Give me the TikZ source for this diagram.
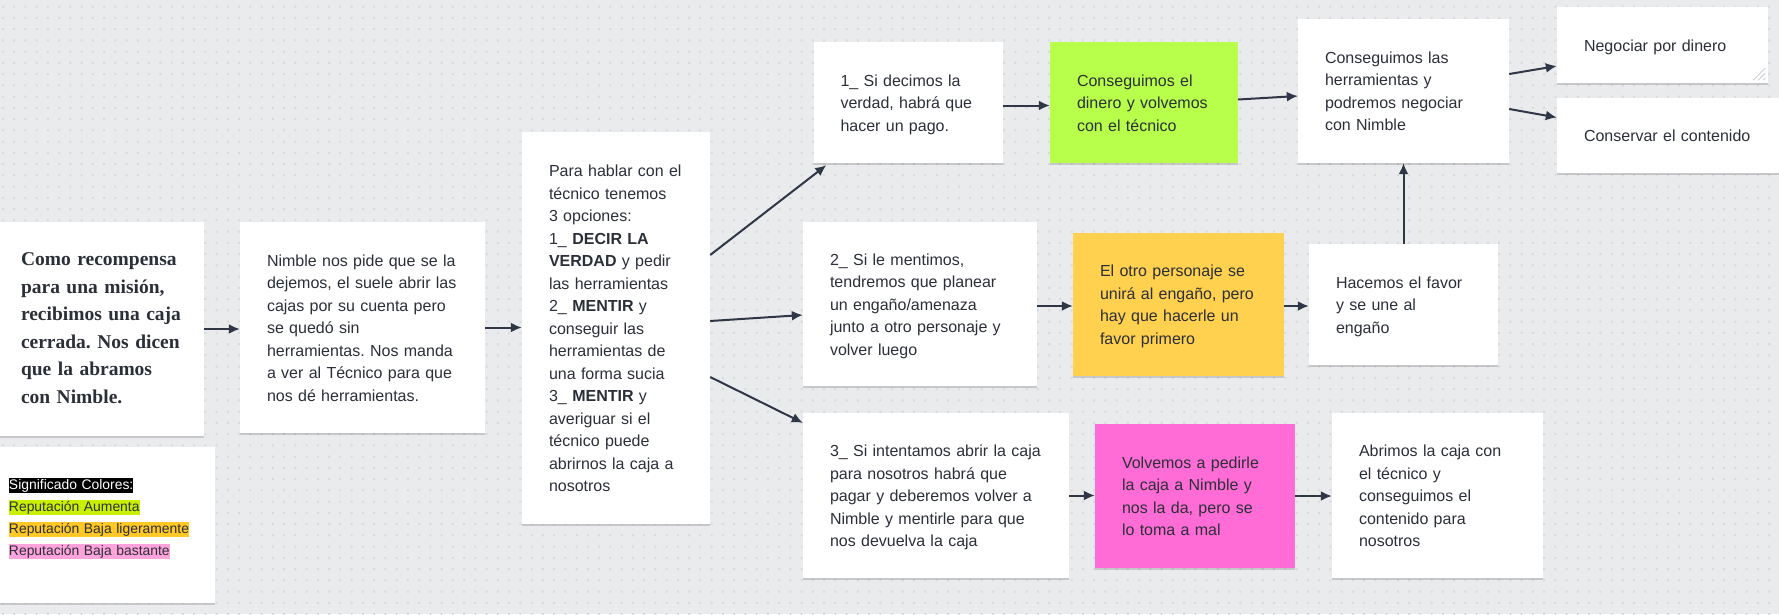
\documentclass[tikz,border=0pt]{standalone}
\usepackage{fontspec}
\setmainfont{Liberation Sans}
\newfontfamily\serifbold{Liberation Serif}
\usetikzlibrary{arrows.meta, shadows}
\frenchspacing

\definecolor{board}{HTML}{EAEBED}
\definecolor{dotgray}{HTML}{D8DADE}
\definecolor{ink}{HTML}{2B2F38}
\definecolor{wire}{HTML}{2F3746}
\definecolor{upgreen}{HTML}{B8FF4C}
\definecolor{downyellow}{HTML}{FFD14F}
\definecolor{downpink}{HTML}{FF6CD6}
\definecolor{keylime}{HTML}{C8F000}
\definecolor{keyamber}{HTML}{FFC826}
\definecolor{keypink}{HTML}{FFA3DD}

\newcommand{\cardlines}[1]{\begin{tabular}{@{}l@{}}\rule{0pt}{18.75pt}#1\end{tabular}}
\newcommand{\keymark}[2]{{\setlength{\fboxsep}{0pt}\colorbox{#1}{\rule[-3pt]{0pt}{15pt}#2}}}

\begin{document}
\begin{tikzpicture}[x=1pt,y=-1pt,
    card/.style={fill=white,text=ink,inner xsep=27pt,inner ysep=0pt,
      font=\fontsize{16}{22.5}\selectfont,
      drop shadow={shadow xshift=0pt,shadow yshift=-1.5pt,opacity=0.15,fill=black}}]
  \tikzstyle{link}=[draw=wire,line width=2pt,-{Latex[length=11pt,width=10pt]}]
  % board
  \fill[board] (0,0) rectangle (1779,614);
  \useasboundingbox (0,0) rectangle (1779,614);
  \foreach \j in {0,...,54}
    \fill[dotgray] \foreach \i in {0,...,158} {(1.95+11.25*\i,5.5+11.25*\j) rectangle ++(2,2)};

  % start
  \node[card, text width=156pt, minimum height=214pt,
    font=\serifbold\bfseries\fontsize{19.5}{27.5}\selectfont] (reward) at (99,329)
    {\cardlines{Como recompensa\\ para una misión,\\ recibimos una caja\\ cerrada. Nos dicen\\ que la abramos\\ con Nimble.}};
  \node[card, text width=191pt, minimum height=211pt] (nimble) at (362.5,327.5)
    {\cardlines{Nimble nos pide que se la\\ dejemos, el suele abrir las\\ cajas por su cuenta pero\\ se quedó sin\\ herramientas. Nos manda\\ a ver al Técnico para que\\ nos dé herramientas.}};
  \node[card, text width=134pt, minimum height=392pt] (opts) at (616,328)
    {\cardlines{Para hablar con el\\ técnico tenemos\\ 3 opciones:\\ 1\_ \textbf{DECIR LA}\\ \textbf{VERDAD} y pedir\\ las herramientas\\ 2\_ \textbf{MENTIR} y\\ conseguir las\\ herramientas de\\ una forma sucia\\ 3\_ \textbf{MENTIR} y\\ averiguar si el\\ técnico puede\\ abrirnos la caja a\\ nosotros}};

  % option 1
  \node[card, text width=135pt, minimum height=121pt] (truth) at (908,102.5)
    {\cardlines{1\_ Si decimos la\\ verdad, habrá que\\ hacer un pago.}};
  \node[card, fill=upgreen, text width=134pt, minimum height=121pt] (money) at (1144,102.5)
    {\cardlines{Conseguimos el\\ dinero y volvemos\\ con el técnico}};
  \node[card, text width=157pt, minimum height=144pt] (tools) at (1403.5,91)
    {\cardlines{Conseguimos las\\ herramientas y\\ podremos negociar\\ con Nimble}};
  \node[card, text width=157pt, minimum height=76pt] (deal) at (1662.5,45)
    {\cardlines{Negociar por dinero}};
  \node[card, text width=179pt, minimum height=75pt] (keep) at (1673.5,135.5)
    {\cardlines{Conservar el contenido}};

  % option 2
  \node[card, text width=180pt, minimum height=164pt] (lie) at (920,304)
    {\cardlines{2\_ Si le mentimos,\\ tendremos que planear\\ un engaño/amenaza\\ junto a otro personaje y\\ volver luego}};
  \node[card, fill=downyellow, text width=157pt, minimum height=143pt] (join) at (1178.5,304.5)
    {\cardlines{El otro personaje se\\ unirá al engaño, pero\\ hay que hacerle un\\ favor primero}};
  \node[card, text width=135pt, minimum height=121pt] (favor) at (1403.5,304.5)
    {\cardlines{Hacemos el favor\\ y se une al\\ engaño}};

  % option 3
  \node[card, text width=212pt, minimum height=165pt] (ask) at (936,495.5)
    {\cardlines{3\_ Si intentamos abrir la caja\\ para nosotros habrá que\\ pagar y deberemos volver a\\ Nimble y mentirle para que\\ nos devuelva la caja}};
  \node[card, fill=downpink, text width=146pt, minimum height=144pt] (back) at (1195,496)
    {\cardlines{Volvemos a pedirle\\ la caja a Nimble y\\ nos la da, pero se\\ lo toma a mal}};
  \node[card, text width=157pt, minimum height=165pt] (open) at (1437.5,495.5)
    {\cardlines{Abrimos la caja con\\ el técnico y\\ conseguimos el\\ contenido para\\ nosotros}};

  % colour key
  \node[card, text width=179pt, minimum height=156pt, font=\fontsize{13.9}{22}\selectfont] (legend) at (98.5,525)
    {\cardlines{\keymark{black}{\color{white}Significado Colores:}\\ \keymark{keylime}{Reputación Aumenta}\\ \keymark{keyamber}{Reputación Baja ligeramente}\\ \keymark{keypink}{Reputación Baja bastante}\\[17pt]}};

  % resize grip
  \draw[gray!45, line width=0.8pt] ([shift={(-15pt,3pt)}]deal.south east) -- ([shift={(-3pt,15pt)}]deal.south east)
    ([shift={(-10pt,3pt)}]deal.south east) -- ([shift={(-3pt,10pt)}]deal.south east)
    ([shift={(-5pt,3pt)}]deal.south east) -- ([shift={(-3pt,5pt)}]deal.south east);

  % arrows
  \draw[link] (reward.east) -- (reward.east -| nimble.west);
  \draw[link] (nimble.east) -- (nimble.east -| opts.west);
  \draw[link] ([yshift=73pt]opts.east) -- ([xshift=13pt,yshift=-2pt]truth.south west);
  \draw[link] ([yshift=7pt]opts.east) -- ([yshift=-11pt]lie.west);
  \draw[link] ([yshift=-49pt]opts.east) -- ([yshift=-10pt]ask.north west);
  \draw[link] ([yshift=-3pt]truth.east) -- ([yshift=-3pt]money.west);
  \draw[link] ([yshift=3pt]money.east) -- ([yshift=-5pt]tools.west);
  \draw[link] ([yshift=17pt]tools.east) -- ([yshift=-21pt]deal.west);
  \draw[link] ([yshift=-18pt]tools.east) -- ([yshift=18pt]keep.west);
  \draw[link] ([yshift=-2pt]lie.east) -- ([yshift=-2pt]lie.east -| join.west);
  \draw[link] ([yshift=-1.5pt]join.east) -- ([yshift=-1.5pt]join.east -| favor.west);
  \draw[link] (favor.north) -- (tools.south);
  \draw[link] (ask.east) -- (ask.east -| back.west);
  \draw[link] (back.east) -- (back.east -| open.west);
\end{tikzpicture}
\end{document}
